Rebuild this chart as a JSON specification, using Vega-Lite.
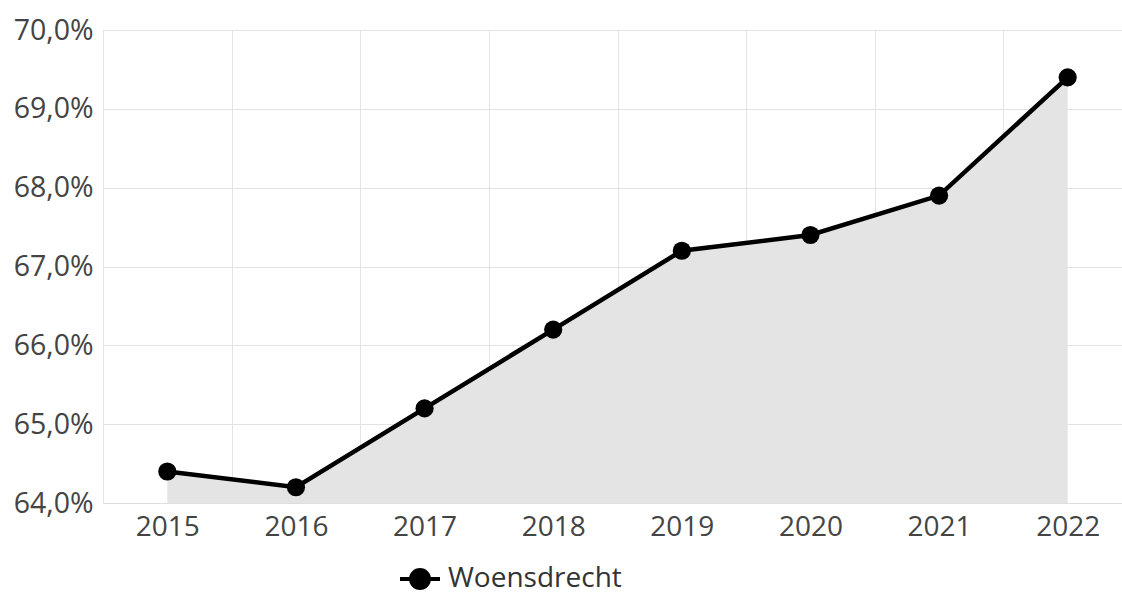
{
  "$schema": "https://vega.github.io/schema/vega-lite/v6.json",
  "autosize": {"type": "none"},
  "padding": {"left": 103, "top": 30, "right": 0, "bottom": 89},
  "width": 1029,
  "height": 473,
  "background": "white",
  "config": {
    "view": {"stroke": null},
    "font": "Open Sans",
    "axis": {"labelFont": "Open Sans", "labelColor": "#444444", "gridColor": "#e3e3e3", "domainColor": "#dddddd", "tickColor": "#dddddd"}
  },
  "data": {
    "values": [
      {"year": "2015", "value": 64.4, "name": "Woensdrecht"},
      {"year": "2016", "value": 64.2, "name": "Woensdrecht"},
      {"year": "2017", "value": 65.2, "name": "Woensdrecht"},
      {"year": "2018", "value": 66.2, "name": "Woensdrecht"},
      {"year": "2019", "value": 67.2, "name": "Woensdrecht"},
      {"year": "2020", "value": 67.4, "name": "Woensdrecht"},
      {"year": "2021", "value": 67.9, "name": "Woensdrecht"},
      {"year": "2022", "value": 69.4, "name": "Woensdrecht"}
    ]
  },
  "encoding": {
    "x": {
      "field": "year", "type": "ordinal", "bandPosition": 0.5,
      "scale": {"type": "band", "paddingInner": 0, "paddingOuter": 0},
      "axis": {"title": null, "labelAngle": 0, "labelFontSize": 28, "tickBand": "extent", "ticks": false, "labelPadding": 10, "grid": true, "domain": true, "labelOverlap": false}
    },
    "y": {
      "field": "value", "type": "quantitative",
      "scale": {"domain": [64, 70], "zero": false, "nice": false},
      "axis": {"title": null, "values": [64, 65, 66, 67, 68, 69, 70], "labelExpr": "replace(format(datum.value, '.1f'), '.', ',') + '%'", "labelFontSize": 28.5, "ticks": false, "labelPadding": 10, "domain": false, "grid": true, "labelOverlap": false, "labelFlush": false}
    }
  },
  "layer": [
    {
      "mark": {"type": "area", "color": "#e4e4e4"},
      "encoding": {"y2": {"datum": 64}}
    },
    {
      "mark": {"type": "line", "strokeWidth": 4.5},
      "encoding": {
        "color": {
          "field": "name", "type": "nominal",
          "scale": {"range": ["#000000"]},
          "legend": {
            "title": null, "orient": "none", "legendX": 295, "legendY": 527,
            "labelFontSize": 28, "labelColor": "#333333", "labelFont": "Open Sans", "labelLimit": 500,
            "symbolType": "M-1,0L1,0M-0.45,0A0.45,0.45 0 1,0 0.45,0A0.45,0.45 0 1,0 -0.45,0",
            "symbolSize": 1600, "symbolStrokeWidth": 4, "symbolFillColor": "#000000", "symbolStrokeColor": "#000000", "labelOffset": 6
          }
        }
      }
    },
    {
      "mark": {"type": "point", "filled": true, "color": "#000000", "size": 330, "opacity": 1}
    }
  ]
}
